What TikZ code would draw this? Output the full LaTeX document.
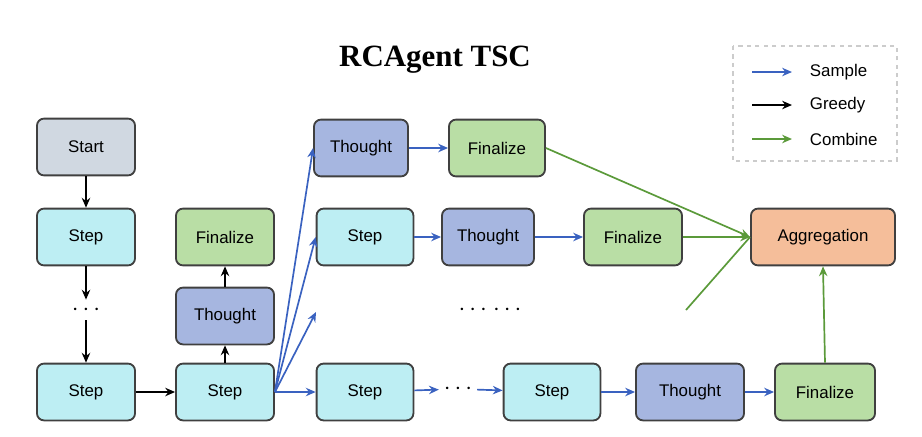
\documentclass[tikz,border=0pt]{standalone}
\usepackage{fontspec}
\setmainfont{Liberation Sans}
\newfontfamily\titlefont{Liberation Serif}
\usetikzlibrary{arrows.meta}

\definecolor{startC}{HTML}{D0D8E1}
\definecolor{stepC}{HTML}{BDEEF3}
\definecolor{thoughtC}{HTML}{A6B6E0}
\definecolor{finalC}{HTML}{B9DEA5}
\definecolor{aggC}{HTML}{F5BE9A}
\definecolor{sampleC}{HTML}{3A62C0}
\definecolor{combineC}{HTML}{5B9A3A}

\tikzset{
	box/.style = {draw=black!75, line width=1.3pt, rounded corners=5pt, minimum height=1.42cm, font=\fontsize{12}{14}\selectfont},
	sample/.style = {draw=sampleC, line width=1.2pt, -{Stealth[length=7pt,width=6pt]}},
	greedy/.style = {draw=black, line width=1.2pt, -{Stealth[length=7pt,width=6pt]}},
	combine/.style = {draw=combineC, line width=1.2pt, -{Stealth[length=7pt,width=6pt]}},
	dots/.style = {font=\fontsize{16}{16}\selectfont\bfseries}
}

\begin{document}
\begin{tikzpicture}[x=0.025cm, y=-0.025cm]

	\useasboundingbox (0,0) rectangle (922,436);

	% Title.
	\node [font=\titlefont\bfseries\fontsize{22}{26}\selectfont] (title) at (435,60) {RCAgent TSC};

	% Legend.
	\draw [gray!40, dashed, line width=1.2pt] (733,46) rectangle (897,161);
	\coordinate (l1a) at (752,72);  \coordinate (l1b) at (792,72);
	\coordinate (l2a) at (752,105); \coordinate (l2b) at (792,105);
	\coordinate (l3a) at (752,139); \coordinate (l3b) at (792,139);
	\draw [sample] (l1a) -- (l1b);
	\draw [greedy] (l2a) -- (l2b);
	\draw [combine] (l3a) -- (l3b);
	\node [anchor=west, font=\fontsize{12}{14}\selectfont] (lSample) at (805,72) {Sample};
	\node [anchor=west, font=\fontsize{12}{14}\selectfont] (lGreedy) at (805,105) {Greedy};
	\node [anchor=west, font=\fontsize{12}{14}\selectfont] (lCombine) at (805,139) {Combine};

	% Greedy column.
	\node [box, fill=startC, minimum width=2.45cm] (start) at (86,147) {Start};
	\node [box, fill=stepC, minimum width=2.45cm] (stepA) at (86,237) {Step};
	\node [dots] (dotsA) at (86,310) {$\cdots$};
	\node [box, fill=stepC, minimum width=2.45cm] (stepB) at (86,392) {Step};
	\node [box, fill=stepC, minimum width=2.45cm] (stepC) at (225,392) {Step};
	\node [box, fill=thoughtC, minimum width=2.45cm] (thoughtA) at (225,316) {Thought};
	\node [box, fill=finalC, minimum width=2.45cm] (finalA) at (225,237) {Finalize};

	% Sampled paths.
	\node [box, fill=thoughtC, minimum width=2.35cm] (thoughtB) at (361,148) {Thought};
	\node [box, fill=finalC, minimum width=2.4cm] (finalB) at (497,148) {Finalize};

	\node [box, fill=stepC, minimum width=2.42cm] (stepD) at (365,237) {Step};
	\node [box, fill=thoughtC, minimum width=2.3cm] (thoughtC) at (488,237) {Thought};
	\node [box, fill=finalC, minimum width=2.45cm] (finalC) at (633,237) {Finalize};

	\node [dots] (dotsB) at (490,310) {$\cdots$ $\cdots$};

	\node [box, fill=stepC, minimum width=2.42cm] (stepE) at (365,392) {Step};
	\node [dots] (dotsC) at (458,389) {$\cdots$};
	\node [box, fill=stepC, minimum width=2.42cm] (stepF) at (552,392) {Step};
	\node [box, fill=thoughtC, minimum width=2.7cm] (thoughtD) at (690,392) {Thought};
	\node [box, fill=finalC, minimum width=2.5cm] (finalD) at (825,392) {Finalize};

	\node [box, fill=aggC, minimum width=3.6cm] (agg) at (823,237) {Aggregation};

	\coordinate (free) at (316,312);
	\coordinate (loose) at (686,310);

	% Greedy arrows.
	\draw [greedy] (start) -- (stepA);
	\draw [greedy] (stepA) -- (dotsA);
	\draw [greedy] (dotsA) -- (stepB);
	\draw [greedy] (stepB) -- (stepC);
	\draw [greedy] (stepC) -- (thoughtA);
	\draw [greedy] (thoughtA) -- (finalA);

	% Sample arrows.
	\draw [sample] (stepC.east) -- (thoughtB.west);
	\draw [sample] (stepC.east) -- (stepD.west);
	\draw [sample] (stepC.east) -- (free);
	\draw [sample] (stepC.east) -- (stepE.west);
	\draw [sample] (thoughtB) -- (finalB);
	\draw [sample] (stepD) -- (thoughtC);
	\draw [sample] (thoughtC) -- (finalC);
	\draw [sample] (stepE) -- (dotsC);
	\draw [sample] (dotsC) -- (stepF);
	\draw [sample] (stepF) -- (thoughtD);
	\draw [sample] (thoughtD) -- (finalD);

	% Combine arrows.
	\draw [combine] (finalB.east) -- (agg.west);
	\draw [combine] (finalC.east) -- (agg.west);
	\draw [combine, -] (loose) -- (agg.west);
	\draw [combine] (finalD.north) -- (agg.south);

\end{tikzpicture}
\end{document}
